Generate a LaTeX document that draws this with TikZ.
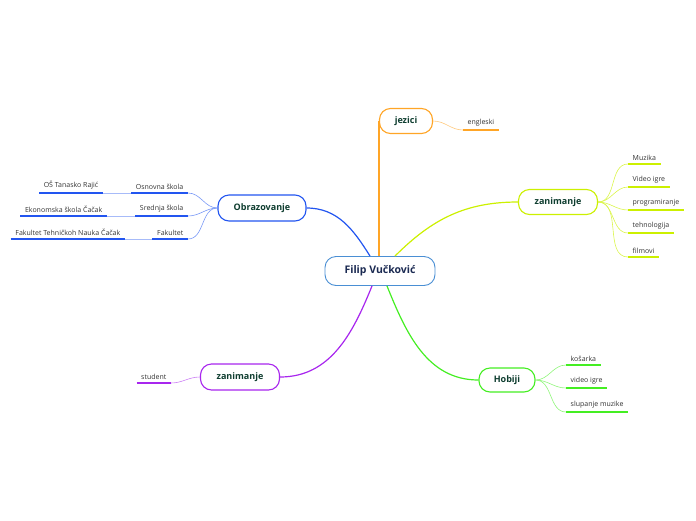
\documentclass[tikz,border=0pt]{standalone}
\usepackage{fontspec}
\setmainfont{Open Sans}
\usetikzlibrary{calc}
\definecolor{rootc}{HTML}{4A8FD4}
\definecolor{roottxt}{HTML}{1B2A52}
\definecolor{boxtxt}{HTML}{0E3D2F}
\definecolor{leaftxt}{HTML}{333333}
\definecolor{obra}{HTML}{2255F0}
\definecolor{jez}{HTML}{FFA526}
\definecolor{zan}{HTML}{CCF000}
\definecolor{hob}{HTML}{44EE22}
\definecolor{zanl}{HTML}{A826EE}

\begin{document}
\begin{tikzpicture}[x=1pt,y=1pt,
    topic/.style={rectangle,draw,rounded corners=11pt,fill=white,line width=1.1pt,minimum height=25pt,font=\fontsize{9}{11}\selectfont\bfseries,text=boxtxt},
    leaf/.style={inner xsep=4.5pt,inner ysep=3.5pt,font=\fontsize{7}{8}\selectfont,text=leaftxt},
    uline/.style={line width=1.8pt},
    branch/.style={line width=1.2pt},
    twig/.style={line width=0.6pt},
]
\useasboundingbox (0,0) rectangle (696,-520);

\node[topic,draw=rootc,line width=0.9pt,minimum width=110pt,minimum height=29pt,font=\fontsize{10.5}{12}\selectfont\bfseries,text=roottxt] (root) at (380,-271) {Filip Vučković};
\node[topic,draw=obra,minimum width=88pt,minimum height=26pt] (obr) at (262,-208) {Obrazovanje};
\node[topic,draw=jez,minimum width=53pt] (jez) at (406,-121) {jezici};
\node[topic,draw=zan,minimum width=79pt] (zan1) at (558,-202) {zanimanje};
\node[topic,draw=hob,minimum width=56pt,minimum height=24pt] (hob) at (507,-380) {Hobiji};
\node[topic,draw=zanl,minimum width=79pt,minimum height=26pt] (zan2) at (240,-377) {zanimanje};

% main branches
\draw[branch,obra] (obr.east) to[out=0,in=122] ($(root.north)+(-10,0)$);
\draw[branch,jez] (jez.west) -- (jez.west |- root.north);
\draw[branch,zan] (zan1.west) to[out=180,in=45] ($(root.north)+(15,0)$);
\draw[branch,zanl] (zan2.east) to[out=0,in=-112] ($(root.south)+(-8,0)$);
\draw[branch,hob] (hob.west) to[out=180,in=-68] ($(root.south)+(7,0)$);

% Obrazovanje
\node[leaf,anchor=south east] (osn) at (188,-193) {Osnovna škola};
\node[leaf,anchor=south east] (sre) at (188,-216) {Srednja škola};
\node[leaf,anchor=south east] (fak) at (188,-239) {Fakultet};
\node[leaf,anchor=south east] (os) at (103,-193) {OŠ Tanasko Rajić};
\node[leaf,anchor=south east] (eko) at (107,-216) {Ekonomska škola Čačak};
\node[leaf,anchor=south east] (ftn) at (125,-239) {Fakultet Tehničkoh Nauka Čačak};
\foreach \n in {osn,sre,fak,os,eko,ftn}
  \draw[uline,obra] (\n.south west) -- (\n.south east);
\foreach \n in {osn,sre,fak}
  \draw[twig,obra!60] (obr.west) to[out=180,in=0] (\n.south east);
\draw[twig,obra!40] (os.south east) -- (osn.south west);
\draw[twig,obra!40] (eko.south east) -- (sre.south west);
\draw[twig,obra!40] (ftn.south east) -- (fak.south west);

% jezici
\node[leaf,anchor=south west] (eng) at (463,-130) {engleski};
\draw[uline,jez] (eng.south west) -- (eng.south east);
\draw[twig,jez!60] (jez.east) to[out=0,in=180] (eng.south west);

% zanimanje desno
\node[leaf,anchor=south west] (muz) at (628,-164) {Muzika};
\node[leaf,anchor=south west] (vid) at (628,-187) {Video igre};
\node[leaf,anchor=south west] (pro) at (628,-210) {programiranje};
\node[leaf,anchor=south west] (teh) at (628,-233) {tehnologija};
\node[leaf,anchor=south west] (fil) at (628,-257) {filmovi};
\foreach \n in {muz,vid,pro,teh,fil}{
  \draw[uline,zan] (\n.south west) -- (\n.south east);
  \draw[twig,zan!70] (zan1.east) to[out=0,in=180] (\n.south west);
}

% Hobiji
\node[leaf,anchor=south west] (kos) at (566,-365) {košarka};
\node[leaf,anchor=south west] (vig) at (566,-388) {video igre};
\node[leaf,anchor=south west] (slu) at (566,-412) {slupanje muzike};
\foreach \n in {kos,vig,slu}{
  \draw[uline,hob] (\n.south west) -- (\n.south east);
  \draw[twig,hob!60] (hob.east) to[out=0,in=180] (\n.south west);
}

% zanimanje levo
\node[leaf,anchor=south east] (stu) at (171,-383) {student};
\draw[uline,zanl] (stu.south west) -- (stu.south east);
\draw[twig,zanl!60] (zan2.west) to[out=180,in=0] (stu.south east);
\end{tikzpicture}
\end{document}
